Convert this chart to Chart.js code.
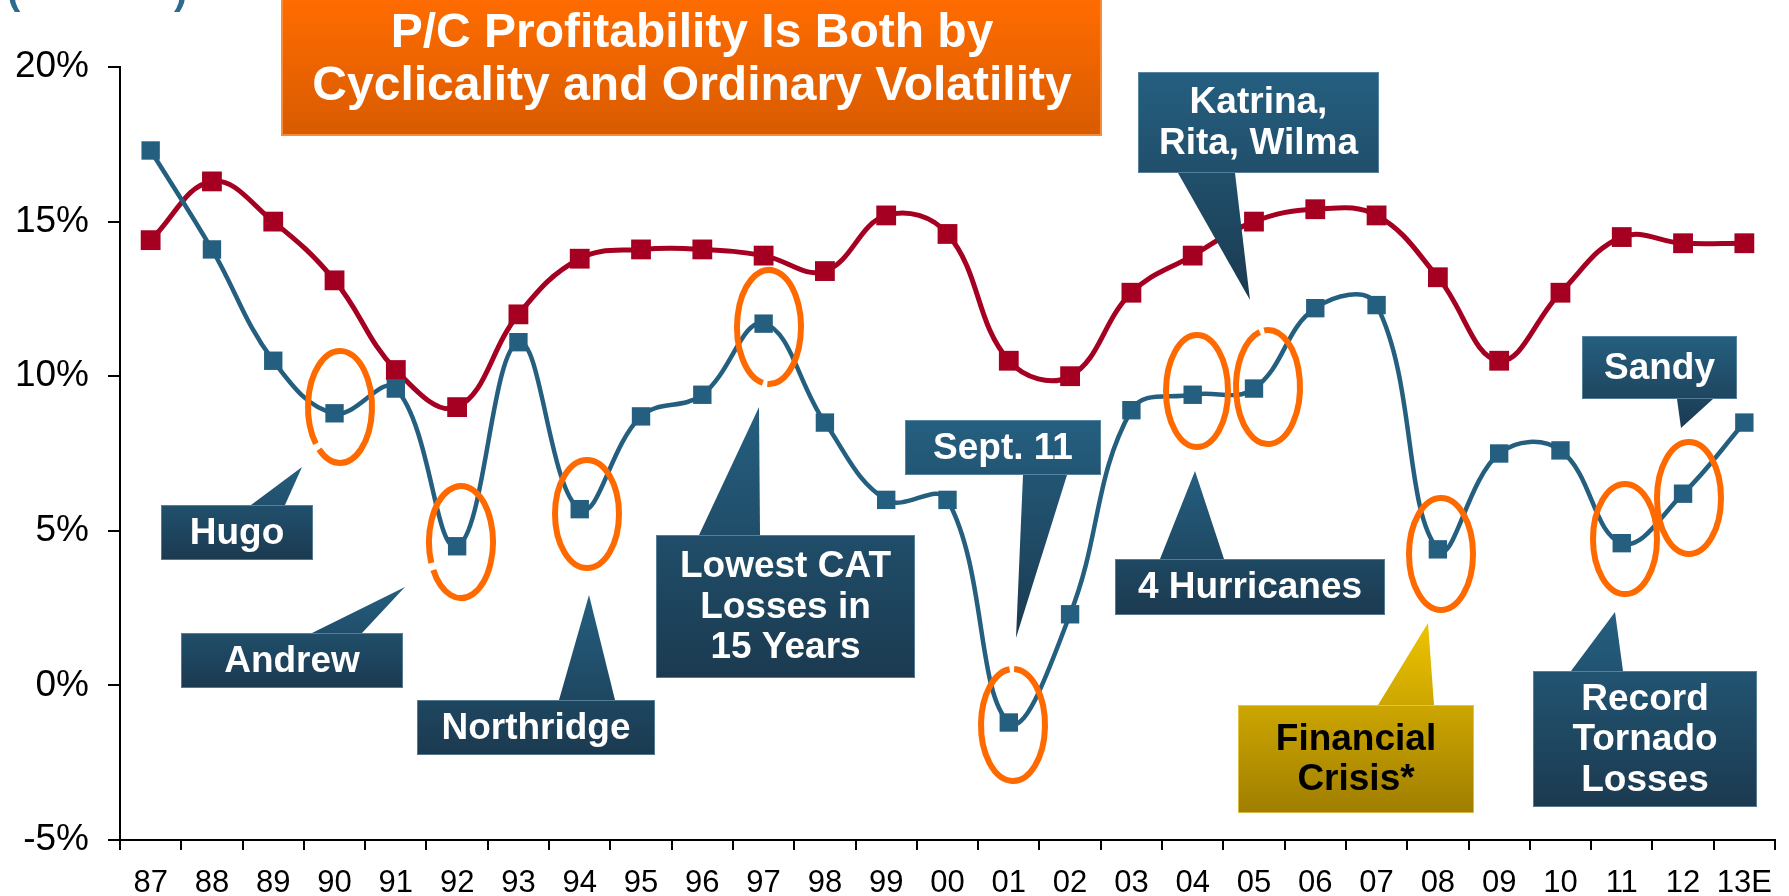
<!DOCTYPE html>
<html>
<head>
<meta charset="utf-8">
<title>P/C Profitability</title>
<script src="https://cdn.jsdelivr.net/npm/chart.js@4.4.1/dist/chart.umd.min.js"></script>
<style>
  html, body { margin: 0; padding: 0; background: #fff; }
  #wrap { width: 1789px; height: 896px; position: relative; }
</style>
</head>
<body>
<div id="wrap"><canvas id="pc_chart"></canvas></div>
<script>
// values (percent)
const years = ['87', '88', '89', '90', '91', '92', '93', '94', '95', '96', '97', '98', '99',
    '00', '01', '02', '03', '04', '05', '06', '07', '08', '09', '10', '11', '12', '13E']
const pcRoe = [17.3, 14.1, 10.5, 8.8, 9.6, 4.5, 11.1, 5.7, 8.7, 9.4, 11.7, 8.5, 6.0,
    6.0, -1.2, 2.3, 8.9, 9.4, 9.6, 12.2, 12.3, 4.4, 7.5, 7.6, 4.6, 6.2, 8.5]
const benchRoe = [14.4, 16.3, 15.0, 13.1, 10.2, 9.0, 12.0, 13.8, 14.1, 14.1, 13.9, 13.4, 15.2,
    14.6, 10.5, 10.0, 12.7, 13.9, 15.0, 15.4, 15.2, 13.2, 10.5, 12.7, 14.5, 14.3, 14.3]
const yMin = -5
const yMax = 20
const yStep = 5

const BLUE = '#255F7F'
const RED = '#A50021'
const ORANGE = '#FF6A00'

Chart.defaults.font.family = "'Liberation Sans', Arial, sans-serif"

// circled years (pixel centre, radii, gap angle in degrees)
const rings = [
    { x: 340, y: 407, rx: 32, ry: 56, gap: 135 },
    { x: 461, y: 542, rx: 32, ry: 56, gap: 154 },
    { x: 587, y: 514, rx: 32, ry: 54 },
    { x: 769, y: 327, rx: 32, ry: 57, gap: 97 },
    { x: 1013, y: 725, rx: 32, ry: 56, gap: 268 },
    { x: 1197, y: 391, rx: 31, ry: 56 },
    { x: 1268, y: 387, rx: 32, ry: 57, gap: 259 },
    { x: 1441, y: 554, rx: 32, ry: 56 },
    { x: 1625, y: 539, rx: 32, ry: 55 },
    { x: 1689, y: 498, rx: 32, ry: 56 }
]

const callouts = [
    { text: ['Hugo'], box: [161, 505, 313, 560], tip: [[251, 505], [285, 505], [302, 467]] },
    { text: ['Andrew'], box: [181, 633, 403, 688], tip: [[312, 633], [362, 633], [405, 587]] },
    { text: ['Northridge'], box: [417, 700, 655, 755], tip: [[559, 700], [615, 700], [589, 595]] },
    { text: ['Lowest CAT', 'Losses in', '15 Years'], box: [656, 535, 915, 678], tip: [[699, 535], [760, 535], [759, 407]] },
    { text: ['Sept. 11'], box: [905, 420, 1101, 475], tip: [[1023, 475], [1067, 475], [1016, 638]] },
    { text: ['4 Hurricanes'], box: [1115, 559, 1385, 615], tip: [[1160, 559], [1224, 559], [1195, 471]] },
    { text: ['Katrina,', 'Rita, Wilma'], box: [1138, 72, 1379, 173], tip: [[1178, 173], [1235, 173], [1250, 300]] },
    { text: ['Financial', 'Crisis*'], box: [1238, 705, 1474, 813], tip: [[1378, 705], [1434, 705], [1428, 623]], gold: true },
    { text: ['Record', 'Tornado', 'Losses'], box: [1533, 671, 1757, 807], tip: [[1571, 671], [1623, 671], [1615, 612]] },
    { text: ['Sandy'], box: [1582, 336, 1737, 399], tip: [[1677, 399], [1713, 399], [1681, 428]] }
]

const ringPlugin = {
    id: 'rings',
    afterDatasetsDraw(chart) {
        const c = chart.ctx
        c.save()
        c.strokeStyle = ORANGE
        c.lineWidth = 6
        rings.forEach(r => {
            const g = r.gap === undefined ? null : r.gap * Math.PI / 180
            c.beginPath()
            if (g === null) c.ellipse(r.x, r.y, r.rx, r.ry, 0, 0, Math.PI * 2)
            else c.ellipse(r.x, r.y, r.rx, r.ry, 0, g + 0.07, g + Math.PI * 2 - 0.07)
            c.stroke()
        })
        c.restore()
    }
}

function drawCallout(c, co) {
    const [x1, y1, x2, y2] = co.box
    const ys = co.tip.map(p => p[1]).concat([y1, y2])
    const top = Math.min(...ys)
    const bottom = Math.max(...ys)
    const grad = c.createLinearGradient(0, top, 0, bottom)
    if (co.gold) {
        grad.addColorStop(0, '#EEC400')
        grad.addColorStop(1, '#A07E00')
    } else {
        grad.addColorStop(0, '#255F80')
        grad.addColorStop(1, '#1B3A50')
    }
    c.fillStyle = grad
    c.fillRect(x1, y1, x2 - x1, y2 - y1)
    c.beginPath()
    c.moveTo(co.tip[0][0], co.tip[0][1])
    c.lineTo(co.tip[2][0], co.tip[2][1])
    c.lineTo(co.tip[1][0], co.tip[1][1])
    c.closePath()
    c.fill()
    c.strokeStyle = co.gold ? 'rgba(240,210,90,0.7)' : 'rgba(120,160,185,0.6)'
    c.lineWidth = 1
    c.strokeRect(x1 + 0.5, y1 + 0.5, x2 - x1 - 1, y2 - y1 - 1)

    c.fillStyle = co.gold ? '#000' : '#fff'
    c.font = "bold 37px 'Liberation Sans', Arial, sans-serif"
    c.textAlign = 'center'
    c.textBaseline = 'alphabetic'
    const cx = (x1 + x2) / 2
    const cy = (y1 + y2) / 2 + 11
    const n = co.text.length
    co.text.forEach((t, k) => {
        c.fillText(t, cx, cy + (k - (n - 1) / 2) * 40.5)
    })
}

const overlayPlugin = {
    id: 'overlay',
    afterDraw(chart) {
        const c = chart.ctx
        c.save()

        // title box
        const tg = c.createLinearGradient(0, 0, 0, 136)
        tg.addColorStop(0, '#FF6C00')
        tg.addColorStop(1, '#D85B00')
        c.fillStyle = tg
        c.fillRect(281, -4, 821, 140)
        c.strokeStyle = '#F88A3A'
        c.lineWidth = 2
        c.strokeRect(282, -4, 819, 139)
        c.fillStyle = '#fff'
        c.font = "bold 48px 'Liberation Sans', Arial, sans-serif"
        c.textAlign = 'center'
        c.textBaseline = 'alphabetic'
        c.fillText('P/C Profitability Is Both by', 692, 47)
        c.fillText('Cyclicality and Ordinary Volatility', 692, 100)

        // cut-off unit label at the very top
        c.fillStyle = '#2E6A8E'
        c.font = "bold 40px 'Liberation Sans', Arial, sans-serif"
        c.textAlign = 'left'
        c.fillText('(', 7, 4)
        c.fillText(')', 174, 4)

        callouts.forEach(co => drawCallout(c, co))
        c.restore()
    }
}

const pc_chart = document.querySelector('#pc_chart')

new Chart(pc_chart, {
    type: 'line',
    data: {
        labels: years,
        datasets: [{
            label: 'P/C insurers',
            data: pcRoe,
            borderColor: BLUE,
            backgroundColor: BLUE,
            borderWidth: 4.5,
            pointStyle: 'rect',
            pointRadius: 13,
            pointBorderWidth: 0,
            fill: false,
            tension: 0.4
        }, {
            label: 'Benchmark',
            data: benchRoe,
            borderColor: RED,
            backgroundColor: RED,
            borderWidth: 5,
            pointStyle: 'rect',
            pointRadius: 14,
            pointBorderWidth: 0,
            fill: false,
            tension: 0.4
        }]
    },
    options: {
        responsive: true,
        maintainAspectRatio: false,
        animation: false,
        devicePixelRatio: 1,
        layout: { padding: { top: 67, right: 11, bottom: 0, left: 0 } },
        plugins: {
            legend: { display: false },
            tooltip: { enabled: false }
        },
        scales: {
            x: {
                offset: true,
                grid: { offset: true, drawOnChartArea: false, color: '#000', lineWidth: 2, tickLength: 10 },
                border: { color: '#000', width: 2 },
                ticks: { color: '#000', font: { size: 31 }, padding: 15, maxRotation: 0, autoSkip: false },
                afterFit: scale => { scale.height = 56 }
            },
            y: {
                min: yMin,
                max: yMax,
                grid: { drawOnChartArea: false, color: '#000', lineWidth: 2, tickLength: 12 },
                border: { color: '#000', width: 2 },
                ticks: {
                    stepSize: yStep,
                    color: '#000',
                    font: { size: 37 },
                    padding: 19,
                    callback: v => v + '%'
                },
                afterFit: scale => { scale.width = 120 }
            }
        }
    },
    plugins: [ringPlugin, overlayPlugin]
})
</script>
</body>
</html>
